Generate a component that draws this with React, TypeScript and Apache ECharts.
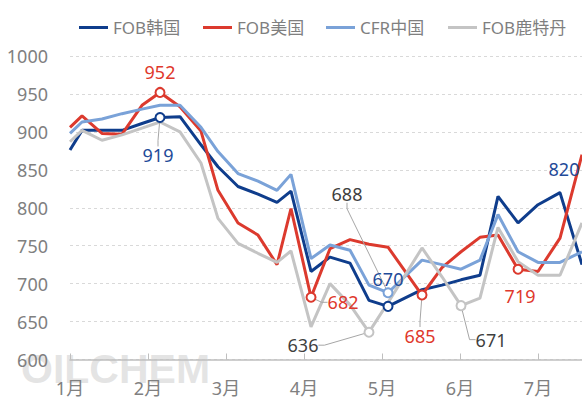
import React, { useEffect, useRef } from 'react';
import * as echarts from 'echarts';

// Tick labels of the month axis
const monthLabels = ['1月', '2月', '3月', '4月', '5月', '6月', '7月'];

// Position of each quote on the axis, in months counted from 1 January
const datePos = [0, 0.154, 0.41, 0.667, 0.923, 1.154, 1.41, 1.679, 1.897, 2.154, 2.41, 2.654, 2.833, 3.09, 3.333, 3.59, 3.833, 4.077, 4.513, 4.769, 5.013, 5.256, 5.487, 5.744, 6.0, 6.282, 6.564];

const seriesNames = ['FOB韩国', 'FOB美国', 'CFR中国', 'FOB鹿特丹'];

const fobKorea = [876, 902, 902, 902, 911, 919, 920, 883, 854, 828, 818, 807, 822, 716, 735, 727, 678, 670, 692, 698, 705, 711, 815, 780, 804, 820, 725];
const fobUS = [906, 921, 898, 897, 935, 952, 933, 901, 823, 780, 764, 725, 799, 682, 746, 758, 752, 748, 685, 721, 742, 761, 764, 719, 716, 760, 870];
const cfrChina = [898, 913, 917, 924, 930, 935, 935, 906, 874, 845, 835, 823, 844, 733, 751, 744, 698, 688, 731, 725, 719, 731, 791, 742, 728, 728, 742];
const fobRotterdam = [887, 902, 889, 896, 905, 913, 900, 859, 786, 753, 740, 728, 743, 643, 700, 672, 636, 675, 747, 709, 671, 681, 774, 729, 711, 711, 780];

const seriesValues = [fobKorea, fobUS, cfrChina, fobRotterdam];

// Styling
const lineColors = ['#0f3d8c', '#dc3a2e', '#7aa2d8', '#c4c4c4'];
const labelColors = ['#1f4b99', '#e0382c', '#3f3f3f', '#3f3f3f'];

// Annotated points: series, point index, label offset (px) from point, leader line, marker
const callouts = [
  { s: 1, i: 5, dx: 0, dy: -20, line: false, marker: true },
  { s: 0, i: 5, dx: -2, dy: 38, line: true, marker: true },
  { s: 1, i: 13, dx: 32, dy: 5, line: true, marker: true },
  { s: 3, i: 16, dx: -66, dy: 13, line: true, marker: true },
  { s: 0, i: 17, dx: 0, dy: -27, line: false, marker: true },
  { s: 2, i: 17, dx: -41, dy: -99, line: true, marker: true },
  { s: 1, i: 18, dx: -2, dy: 41, line: true, marker: true },
  { s: 3, i: 20, dx: 30, dy: 34, line: true, marker: true },
  { s: 1, i: 23, dx: 2, dy: 27, line: false, marker: true },
  { s: 0, i: 25, dx: 4, dy: -24, line: false, marker: false },
];

const FONT = "'Noto Sans', 'Noto Sans CJK SC', sans-serif";
const legendLefts = [74, 198, 321, 443];

function buildSeries(s: number) {
  const color = lineColors[s];
  const data = seriesValues[s].map((v, i) => {
    const c = callouts.find((k) => k.s === s && k.i === i);
    if (!c) return { value: [datePos[i], v] };
    return {
      value: [datePos[i], v],
      symbol: c.marker ? 'emptyCircle' : 'circle',
      symbolSize: c.marker ? 9 : 2,
      itemStyle: { color, borderWidth: 1.5 },
      label: { show: true, color: labelColors[s] },
      labelLine: { show: c.line },
    };
  });
  return {
    name: seriesNames[s],
    type: 'line',
    data,
    symbol: 'none',
    color,
    lineStyle: { color, width: 3 },
    label: {
      show: false,
      position: 'inside',
      fontSize: 18,
      fontFamily: FONT,
      formatter: (p: any) => String(p.value[1]),
    },
    labelLine: { show: false, length2: 6, lineStyle: { color: '#a6a6a6', width: 1 } },
    labelLayout: (p: any) => {
      const c = callouts.find((k) => k.s === s && k.i === p.dataIndex);
      if (!c) return {};
      return {
        x: p.rect.x + p.rect.width / 2 + c.dx,
        y: p.rect.y + p.rect.height / 2 + c.dy,
        align: 'center',
        verticalAlign: 'middle',
      };
    },
    emphasis: { disabled: true },
  };
}

export default function App() {
  const ref = useRef<HTMLDivElement>(null);
  useEffect(() => {
    const chart = echarts.init(ref.current!, null, { renderer: 'svg' });
    chart.setOption({
      animation: false,
      backgroundColor: '#fff',
      textStyle: { fontFamily: FONT },
      legend: seriesNames.map((n, k) => ({
        data: [n],
        left: legendLefts[k],
        top: 14,
        icon: 'rect',
        itemWidth: 29,
        itemHeight: 3,
        selectedMode: false,
        textStyle: { color: '#7f7f7f', fontSize: 17, fontFamily: FONT },
      })),
      grid: { left: 70, right: 0, top: 56, bottom: 43.5, containLabel: false },
      xAxis: {
        type: 'value',
        min: 0,
        max: datePos[datePos.length - 1],
        interval: 1,
        axisLine: { show: true, lineStyle: { color: '#bfbfbf', width: 1.5 } },
        axisTick: { show: true, inside: true, length: 6, lineStyle: { color: '#bfbfbf' } },
        axisLabel: {
          showMaxLabel: false,
          fontSize: 18,
          color: '#808080',
          margin: 19,
          fontFamily: FONT,
          formatter: (v: number) => {
            const r = Math.round(v);
            return Math.abs(v - r) < 1e-6 && monthLabels[r] ? monthLabels[r] : '';
          },
        },
        splitLine: { show: false },
      },
      yAxis: {
        type: 'value',
        min: 600,
        max: 1000,
        interval: 50,
        axisLine: { show: false },
        axisTick: { show: false },
        axisLabel: {
          fontSize: 18,
          color: '#808080',
          margin: 22,
          fontFamily: FONT,
          formatter: (v: number) => String(v),
        },
        splitLine: { lineStyle: { type: [3, 3], color: '#d9d9d9', width: 1 } },
      },
      graphic: [
        {
          type: 'text',
          left: 21,
          top: 348,
          z: -10,
          silent: true,
          style: {
            text: 'OILCHEM',
            fontSize: 41,
            fontWeight: 'bold',
            fontFamily: "'Liberation Sans', Arial, sans-serif",
            fill: 'rgba(205,205,205,0.55)',
          },
        },
      ],
      series: [0, 1, 2, 3].map(buildSeries),
    });
    return () => chart.dispose();
  }, []);
  return (
    <div
      ref={ref}
      style={{ position: 'absolute', left: 0, top: 0, width: 582, height: 403, background: '#fff' }}
    />
  );
}
